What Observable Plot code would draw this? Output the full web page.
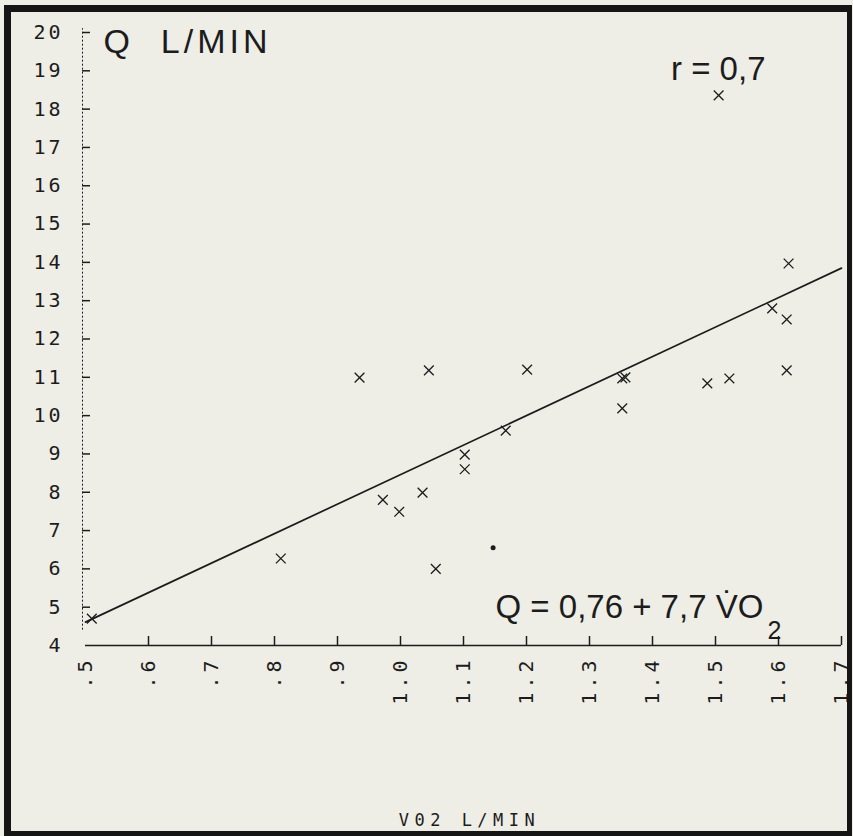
<!DOCTYPE html>
<html>
<head>
<meta charset="utf-8">
<script src="https://cdn.jsdelivr.net/npm/d3@7"></script>
<script src="https://cdn.jsdelivr.net/npm/@observablehq/plot@0.6"></script>
<style>
  html, body { margin: 0; padding: 0; background: #eeede6; }
  #wrap { position: relative; width: 853px; height: 836px; overflow: hidden; }
  #border { position: absolute; left: 4px; top: 5px; width: 848px; height: 831px; box-sizing: border-box;
            border-style: solid; border-color: #151515; border-width: 7px 5px 5px 7px; pointer-events: none; }
  svg [aria-label="y-axis tick label"] text { letter-spacing: 3px; }
  svg [aria-label="x-axis tick label"] text { letter-spacing: 4px; }
  svg text[aria-label="ylabel"] { letter-spacing: 4px; }
  svg text[aria-label="xlabel"] { letter-spacing: 5.5px; }
</style>
</head>
<body>
<div id="wrap"><div id="chart"></div><div id="border"></div></div>
<script>
// VO2 (L/min) and cardiac output Q (L/min)
const vo2 = [0.51, 0.81, 0.935, 1.045, 1.201, 1.167, 1.102, 1.102, 1.035, 0.972, 0.998, 1.056,
             1.505, 1.352, 1.357, 1.352, 1.487, 1.522, 1.613, 1.590, 1.613, 1.616];
const q   = [4.7, 6.27, 10.99, 11.18, 11.2, 9.61, 8.98, 8.6, 7.99, 7.8, 7.49, 6.0,
             18.36, 10.97, 11.0, 10.19, 10.84, 10.97, 11.18, 12.8, 12.51, 13.97];
// single round dot marker
const dotVo2 = [1.147];
const dotQ = [6.55];
// regression line end points (Q = 0.76 + 7.7 VO2)
const fitVo2 = [0.5, 1.7];
const fitQ = [4.61, 13.85];
// ticks
const xTicks = [0.5, 0.6, 0.7, 0.8, 0.9, 1.0, 1.1, 1.2, 1.3, 1.4, 1.5, 1.6, 1.7];
const xTickLabels = [".5", ".6", ".7", ".8", ".9", "1.0", "1.1", "1.2", "1.3", "1.4", "1.5", "1.6", "1.7"];
const yTicks = [4, 5, 6, 7, 8, 9, 10, 11, 12, 13, 14, 15, 16, 17, 18, 19, 20];
const yTickLabels = ["4", "5", "6", "7", "8", "9", "10", "11", "12", "13", "14", "15", "16", "17", "18", "19", "20"];
// texts
const yTitle = "Q\u00a0\u00a0L/MIN";
const xTitle = "V02 L/MIN";
const rText = "r = 0,7";
const eqText = "Q = 0,76 + 7,7 V\u0307O";
const eqSub = "2";

const ink = "#1c1c1c";
const points = vo2.map((x, i) => ({x, y: q[i]}));
const dots = dotVo2.map((x, i) => ({x, y: dotQ[i]}));
const fit = fitVo2.map((x, i) => ({x, y: fitQ[i]}));
const sans = "Liberation Sans, Arial, sans-serif";
const mono = "DejaVu Sans Mono, monospace";

const chart = Plot.plot({
  width: 853,
  height: 836,
  marginLeft: 85,
  marginRight: 12,
  marginTop: 32,
  marginBottom: 191,
  style: {background: "transparent", color: ink, fontFamily: mono, overflow: "visible"},
  x: {domain: [0.5, 1.7]},
  y: {domain: [4, 20]},
  marks: [
    Plot.ruleX([0.5], {dx: -3, y1: 4.4, y2: 20.1, stroke: ink, strokeWidth: 1, strokeDasharray: "2,2"}),
    Plot.axisY(yTicks.slice(1), {tickSize: -8, dx: -3, fill: "none", stroke: ink, strokeWidth: 1.5, label: null}),
    Plot.axisY(yTicks, {tickSize: 0, tickPadding: 22, fontSize: 20, fill: ink, label: null,
      tickFormat: d => yTickLabels[yTicks.indexOf(d)]}),
    Plot.ruleY([4], {stroke: ink, strokeWidth: 1.6}),
    Plot.axisX(xTicks.slice(1), {tickSize: -9, fill: "none", stroke: ink, strokeWidth: 1.5, label: null}),
    Plot.axisX(xTicks, {tickSize: 0, tickPadding: 11, tickRotate: -90, fontSize: 20, fill: ink, label: null,
      tickFormat: d => xTickLabels[xTicks.indexOf(d)]}),
    Plot.line(fit, {x: "x", y: "y", stroke: ink, strokeWidth: 1.7}),
    Plot.dot(points, {x: "x", y: "y", symbol: "times", r: 4.5, stroke: ink, strokeWidth: 1.3}),
    Plot.dot(dots, {x: "x", y: "y", r: 2.5, fill: ink, stroke: "none"}),
    Plot.text([yTitle], {text: d => d, frameAnchor: "top-left", textAnchor: "start", lineAnchor: "top",
      dx: 18, dy: -4, fontSize: 34, fontFamily: sans, fill: ink, ariaLabel: () => "ylabel"}),
    Plot.text([rText], {text: d => d, frameAnchor: "top-right", textAnchor: "end", lineAnchor: "top",
      dx: -76, dy: 24, fontSize: 33, fontFamily: sans, fill: ink}),
    Plot.text([eqText], {text: d => d, frameAnchor: "bottom-left", textAnchor: "start", lineAnchor: "bottom",
      dx: 410, dy: -28, fontSize: 33, fontFamily: sans, fill: ink}),
    Plot.text([eqSub], {text: d => d, frameAnchor: "bottom-left", textAnchor: "start", lineAnchor: "bottom",
      dx: 682, dy: -7, fontSize: 25, fontFamily: sans, fill: ink}),
    Plot.text([xTitle], {text: d => d, frameAnchor: "bottom", textAnchor: "middle", lineAnchor: "bottom",
      dx: 6, dy: 180, fontSize: 17, fontFamily: mono, fill: ink, ariaLabel: () => "xlabel"})
  ]
});
document.getElementById("chart").appendChild(chart);
</script>
</body>
</html>
